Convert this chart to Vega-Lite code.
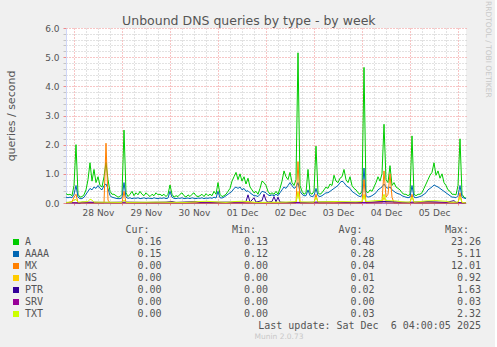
{
"$schema": "https://vega.github.io/schema/vega-lite/v6.json",
"background": "#f0f0f0",
"padding": {"left": 5, "top": 1, "right": 3, "bottom": 10},
"title": {"text": "Unbound DNS queries by type - by week", "font": "DejaVu Sans", "fontSize": 12.5, "fontWeight": "normal", "color": "#555555", "anchor": "middle", "offset": -26},
"spacing": 8,
"config": {"view": {"stroke": null}, "font": "DejaVu Sans"},
"datasets": {
"ts": [
{"t":"2025-11-27T20:00","s":"A","v":0.32},{"t":"2025-11-27T21:00","s":"A","v":0.28},{"t":"2025-11-27T22:00","s":"A","v":0.3},{"t":"2025-11-27T23:00","s":"A","v":0.25},
{"t":"2025-11-28T00:00","s":"A","v":0.6},{"t":"2025-11-28T01:00","s":"A","v":2.0},{"t":"2025-11-28T02:00","s":"A","v":0.3},{"t":"2025-11-28T03:00","s":"A","v":0.2},{"t":"2025-11-28T04:00","s":"A","v":0.22},{"t":"2025-11-28T05:00","s":"A","v":0.28},{"t":"2025-11-28T06:00","s":"A","v":0.45},{"t":"2025-11-28T07:00","s":"A","v":0.8},{"t":"2025-11-28T08:00","s":"A","v":1.38},{"t":"2025-11-28T09:00","s":"A","v":0.75},{"t":"2025-11-28T10:00","s":"A","v":1.15},{"t":"2025-11-28T11:00","s":"A","v":0.7},{"t":"2025-11-28T12:00","s":"A","v":0.9},{"t":"2025-11-28T13:00","s":"A","v":0.6},{"t":"2025-11-28T14:00","s":"A","v":0.55},{"t":"2025-11-28T15:00","s":"A","v":0.9},{"t":"2025-11-28T16:00","s":"A","v":1.4},{"t":"2025-11-28T17:00","s":"A","v":0.8},{"t":"2025-11-28T18:00","s":"A","v":0.4},{"t":"2025-11-28T19:00","s":"A","v":0.3},{"t":"2025-11-28T20:00","s":"A","v":0.3},{"t":"2025-11-28T21:00","s":"A","v":0.25},{"t":"2025-11-28T22:00","s":"A","v":0.2},{"t":"2025-11-28T23:00","s":"A","v":0.22},
{"t":"2025-11-29T00:00","s":"A","v":0.3},{"t":"2025-11-29T01:00","s":"A","v":2.5},{"t":"2025-11-29T02:00","s":"A","v":0.35},{"t":"2025-11-29T03:00","s":"A","v":0.22},{"t":"2025-11-29T04:00","s":"A","v":0.3},{"t":"2025-11-29T05:00","s":"A","v":0.4},{"t":"2025-11-29T06:00","s":"A","v":0.25},{"t":"2025-11-29T07:00","s":"A","v":0.35},{"t":"2025-11-29T08:00","s":"A","v":0.28},{"t":"2025-11-29T09:00","s":"A","v":0.4},{"t":"2025-11-29T10:00","s":"A","v":0.3},{"t":"2025-11-29T11:00","s":"A","v":0.25},{"t":"2025-11-29T12:00","s":"A","v":0.35},{"t":"2025-11-29T13:00","s":"A","v":0.28},{"t":"2025-11-29T14:00","s":"A","v":0.22},{"t":"2025-11-29T15:00","s":"A","v":0.3},{"t":"2025-11-29T16:00","s":"A","v":0.25},{"t":"2025-11-29T17:00","s":"A","v":0.35},{"t":"2025-11-29T18:00","s":"A","v":0.28},{"t":"2025-11-29T19:00","s":"A","v":0.3},{"t":"2025-11-29T20:00","s":"A","v":0.25},{"t":"2025-11-29T21:00","s":"A","v":0.3},{"t":"2025-11-29T22:00","s":"A","v":0.22},{"t":"2025-11-29T23:00","s":"A","v":0.3},
{"t":"2025-11-30T00:00","s":"A","v":0.62},{"t":"2025-11-30T01:00","s":"A","v":0.3},{"t":"2025-11-30T02:00","s":"A","v":0.2},{"t":"2025-11-30T03:00","s":"A","v":0.25},{"t":"2025-11-30T04:00","s":"A","v":0.22},{"t":"2025-11-30T05:00","s":"A","v":0.3},{"t":"2025-11-30T06:00","s":"A","v":0.35},{"t":"2025-11-30T07:00","s":"A","v":0.25},{"t":"2025-11-30T08:00","s":"A","v":0.2},{"t":"2025-11-30T09:00","s":"A","v":0.28},{"t":"2025-11-30T10:00","s":"A","v":0.22},{"t":"2025-11-30T11:00","s":"A","v":0.3},{"t":"2025-11-30T12:00","s":"A","v":0.35},{"t":"2025-11-30T13:00","s":"A","v":0.25},{"t":"2025-11-30T14:00","s":"A","v":0.22},{"t":"2025-11-30T15:00","s":"A","v":0.25},{"t":"2025-11-30T16:00","s":"A","v":0.3},{"t":"2025-11-30T17:00","s":"A","v":0.22},{"t":"2025-11-30T18:00","s":"A","v":0.32},{"t":"2025-11-30T19:00","s":"A","v":0.25},{"t":"2025-11-30T20:00","s":"A","v":0.3},{"t":"2025-11-30T21:00","s":"A","v":0.25},{"t":"2025-11-30T22:00","s":"A","v":0.4},{"t":"2025-11-30T23:00","s":"A","v":0.3},
{"t":"2025-12-01T00:00","s":"A","v":0.7},{"t":"2025-12-01T01:00","s":"A","v":0.3},{"t":"2025-12-01T02:00","s":"A","v":0.22},{"t":"2025-12-01T03:00","s":"A","v":0.25},{"t":"2025-12-01T04:00","s":"A","v":0.3},{"t":"2025-12-01T05:00","s":"A","v":0.4},{"t":"2025-12-01T06:00","s":"A","v":0.5},{"t":"2025-12-01T07:00","s":"A","v":0.75},{"t":"2025-12-01T08:00","s":"A","v":0.9},{"t":"2025-12-01T09:00","s":"A","v":1.05},{"t":"2025-12-01T10:00","s":"A","v":0.8},{"t":"2025-12-01T11:00","s":"A","v":1.0},{"t":"2025-12-01T12:00","s":"A","v":0.75},{"t":"2025-12-01T13:00","s":"A","v":0.9},{"t":"2025-12-01T14:00","s":"A","v":0.65},{"t":"2025-12-01T15:00","s":"A","v":0.85},{"t":"2025-12-01T16:00","s":"A","v":0.55},{"t":"2025-12-01T17:00","s":"A","v":0.45},{"t":"2025-12-01T18:00","s":"A","v":0.35},{"t":"2025-12-01T19:00","s":"A","v":0.4},{"t":"2025-12-01T20:00","s":"A","v":0.3},{"t":"2025-12-01T21:00","s":"A","v":0.5},{"t":"2025-12-01T22:00","s":"A","v":0.75},{"t":"2025-12-01T23:00","s":"A","v":0.7},
{"t":"2025-12-02T00:00","s":"A","v":0.6},{"t":"2025-12-02T01:00","s":"A","v":0.4},{"t":"2025-12-02T02:00","s":"A","v":0.3},{"t":"2025-12-02T03:00","s":"A","v":0.35},{"t":"2025-12-02T04:00","s":"A","v":0.3},{"t":"2025-12-02T05:00","s":"A","v":0.4},{"t":"2025-12-02T06:00","s":"A","v":0.3},{"t":"2025-12-02T07:00","s":"A","v":0.5},{"t":"2025-12-02T08:00","s":"A","v":0.75},{"t":"2025-12-02T09:00","s":"A","v":1.1},{"t":"2025-12-02T10:00","s":"A","v":0.9},{"t":"2025-12-02T11:00","s":"A","v":0.8},{"t":"2025-12-02T12:00","s":"A","v":1.05},{"t":"2025-12-02T13:00","s":"A","v":0.7},{"t":"2025-12-02T14:00","s":"A","v":0.6},{"t":"2025-12-02T15:00","s":"A","v":0.8},{"t":"2025-12-02T16:00","s":"A","v":5.15},{"t":"2025-12-02T17:00","s":"A","v":0.6},{"t":"2025-12-02T18:00","s":"A","v":0.4},{"t":"2025-12-02T19:00","s":"A","v":0.3},{"t":"2025-12-02T20:00","s":"A","v":0.35},{"t":"2025-12-02T21:00","s":"A","v":1.15},{"t":"2025-12-02T22:00","s":"A","v":0.35},{"t":"2025-12-02T23:00","s":"A","v":0.3},
{"t":"2025-12-03T00:00","s":"A","v":0.4},{"t":"2025-12-03T01:00","s":"A","v":1.95},{"t":"2025-12-03T02:00","s":"A","v":0.35},{"t":"2025-12-03T03:00","s":"A","v":0.3},{"t":"2025-12-03T04:00","s":"A","v":0.35},{"t":"2025-12-03T05:00","s":"A","v":0.45},{"t":"2025-12-03T06:00","s":"A","v":0.55},{"t":"2025-12-03T07:00","s":"A","v":0.5},{"t":"2025-12-03T08:00","s":"A","v":0.65},{"t":"2025-12-03T09:00","s":"A","v":0.6},{"t":"2025-12-03T10:00","s":"A","v":0.95},{"t":"2025-12-03T11:00","s":"A","v":0.75},{"t":"2025-12-03T12:00","s":"A","v":0.7},{"t":"2025-12-03T13:00","s":"A","v":0.85},{"t":"2025-12-03T14:00","s":"A","v":0.9},{"t":"2025-12-03T15:00","s":"A","v":1.15},{"t":"2025-12-03T16:00","s":"A","v":0.8},{"t":"2025-12-03T17:00","s":"A","v":0.7},{"t":"2025-12-03T18:00","s":"A","v":0.9},{"t":"2025-12-03T19:00","s":"A","v":0.6},{"t":"2025-12-03T20:00","s":"A","v":0.5},{"t":"2025-12-03T21:00","s":"A","v":0.45},{"t":"2025-12-03T22:00","s":"A","v":0.35},{"t":"2025-12-03T23:00","s":"A","v":0.3},
{"t":"2025-12-04T00:00","s":"A","v":0.4},{"t":"2025-12-04T01:00","s":"A","v":4.65},{"t":"2025-12-04T02:00","s":"A","v":0.4},{"t":"2025-12-04T03:00","s":"A","v":0.35},{"t":"2025-12-04T04:00","s":"A","v":0.45},{"t":"2025-12-04T05:00","s":"A","v":0.4},{"t":"2025-12-04T06:00","s":"A","v":0.55},{"t":"2025-12-04T07:00","s":"A","v":0.7},{"t":"2025-12-04T08:00","s":"A","v":0.9},{"t":"2025-12-04T09:00","s":"A","v":0.75},{"t":"2025-12-04T10:00","s":"A","v":1.0},{"t":"2025-12-04T11:00","s":"A","v":2.7},{"t":"2025-12-04T12:00","s":"A","v":0.8},{"t":"2025-12-04T13:00","s":"A","v":0.7},{"t":"2025-12-04T14:00","s":"A","v":1.28},{"t":"2025-12-04T15:00","s":"A","v":0.6},{"t":"2025-12-04T16:00","s":"A","v":0.7},{"t":"2025-12-04T17:00","s":"A","v":0.55},{"t":"2025-12-04T18:00","s":"A","v":0.5},{"t":"2025-12-04T19:00","s":"A","v":0.45},{"t":"2025-12-04T20:00","s":"A","v":0.35},{"t":"2025-12-04T21:00","s":"A","v":0.3},{"t":"2025-12-04T22:00","s":"A","v":0.3},{"t":"2025-12-04T23:00","s":"A","v":0.25},
{"t":"2025-12-05T00:00","s":"A","v":0.3},{"t":"2025-12-05T01:00","s":"A","v":2.3},{"t":"2025-12-05T02:00","s":"A","v":0.3},{"t":"2025-12-05T03:00","s":"A","v":0.25},{"t":"2025-12-05T04:00","s":"A","v":0.3},{"t":"2025-12-05T05:00","s":"A","v":0.3},{"t":"2025-12-05T06:00","s":"A","v":0.35},{"t":"2025-12-05T07:00","s":"A","v":0.5},{"t":"2025-12-05T08:00","s":"A","v":0.65},{"t":"2025-12-05T09:00","s":"A","v":0.8},{"t":"2025-12-05T10:00","s":"A","v":0.95},{"t":"2025-12-05T11:00","s":"A","v":1.05},{"t":"2025-12-05T12:00","s":"A","v":1.38},{"t":"2025-12-05T13:00","s":"A","v":0.95},{"t":"2025-12-05T14:00","s":"A","v":1.1},{"t":"2025-12-05T15:00","s":"A","v":0.85},{"t":"2025-12-05T16:00","s":"A","v":1.0},{"t":"2025-12-05T17:00","s":"A","v":0.7},{"t":"2025-12-05T18:00","s":"A","v":0.6},{"t":"2025-12-05T19:00","s":"A","v":0.45},{"t":"2025-12-05T20:00","s":"A","v":0.4},{"t":"2025-12-05T21:00","s":"A","v":0.3},{"t":"2025-12-05T22:00","s":"A","v":0.3},{"t":"2025-12-05T23:00","s":"A","v":0.28},
{"t":"2025-12-06T00:00","s":"A","v":0.6},{"t":"2025-12-06T01:00","s":"A","v":2.2},{"t":"2025-12-06T02:00","s":"A","v":0.3},{"t":"2025-12-06T03:00","s":"A","v":0.2},{"t":"2025-12-06T04:00","s":"A","v":0.16},
{"t":"2025-11-27T20:00","s":"AAAA","v":0.2},{"t":"2025-11-27T21:00","s":"AAAA","v":0.18},{"t":"2025-11-27T22:00","s":"AAAA","v":0.2},{"t":"2025-11-27T23:00","s":"AAAA","v":0.18},
{"t":"2025-11-28T00:00","s":"AAAA","v":0.3},{"t":"2025-11-28T01:00","s":"AAAA","v":0.6},{"t":"2025-11-28T02:00","s":"AAAA","v":0.2},{"t":"2025-11-28T03:00","s":"AAAA","v":0.15},{"t":"2025-11-28T04:00","s":"AAAA","v":0.15},{"t":"2025-11-28T05:00","s":"AAAA","v":0.2},{"t":"2025-11-28T06:00","s":"AAAA","v":0.3},{"t":"2025-11-28T07:00","s":"AAAA","v":0.4},{"t":"2025-11-28T08:00","s":"AAAA","v":0.5},{"t":"2025-11-28T09:00","s":"AAAA","v":0.45},{"t":"2025-11-28T10:00","s":"AAAA","v":0.55},{"t":"2025-11-28T11:00","s":"AAAA","v":0.5},{"t":"2025-11-28T12:00","s":"AAAA","v":0.6},{"t":"2025-11-28T13:00","s":"AAAA","v":0.5},{"t":"2025-11-28T14:00","s":"AAAA","v":0.45},{"t":"2025-11-28T15:00","s":"AAAA","v":0.6},{"t":"2025-11-28T16:00","s":"AAAA","v":0.65},{"t":"2025-11-28T17:00","s":"AAAA","v":0.5},{"t":"2025-11-28T18:00","s":"AAAA","v":0.25},{"t":"2025-11-28T19:00","s":"AAAA","v":0.2},{"t":"2025-11-28T20:00","s":"AAAA","v":0.18},{"t":"2025-11-28T21:00","s":"AAAA","v":0.16},{"t":"2025-11-28T22:00","s":"AAAA","v":0.15},{"t":"2025-11-28T23:00","s":"AAAA","v":0.15},
{"t":"2025-11-29T00:00","s":"AAAA","v":0.18},{"t":"2025-11-29T01:00","s":"AAAA","v":0.7},{"t":"2025-11-29T02:00","s":"AAAA","v":0.2},{"t":"2025-11-29T03:00","s":"AAAA","v":0.16},{"t":"2025-11-29T04:00","s":"AAAA","v":0.18},{"t":"2025-11-29T05:00","s":"AAAA","v":0.15},{"t":"2025-11-29T06:00","s":"AAAA","v":0.17},{"t":"2025-11-29T07:00","s":"AAAA","v":0.16},{"t":"2025-11-29T08:00","s":"AAAA","v":0.18},{"t":"2025-11-29T09:00","s":"AAAA","v":0.15},{"t":"2025-11-29T10:00","s":"AAAA","v":0.16},{"t":"2025-11-29T11:00","s":"AAAA","v":0.18},{"t":"2025-11-29T12:00","s":"AAAA","v":0.15},{"t":"2025-11-29T13:00","s":"AAAA","v":0.17},{"t":"2025-11-29T14:00","s":"AAAA","v":0.16},{"t":"2025-11-29T15:00","s":"AAAA","v":0.15},{"t":"2025-11-29T16:00","s":"AAAA","v":0.18},{"t":"2025-11-29T17:00","s":"AAAA","v":0.16},{"t":"2025-11-29T18:00","s":"AAAA","v":0.15},{"t":"2025-11-29T19:00","s":"AAAA","v":0.17},{"t":"2025-11-29T20:00","s":"AAAA","v":0.16},{"t":"2025-11-29T21:00","s":"AAAA","v":0.18},{"t":"2025-11-29T22:00","s":"AAAA","v":0.15},{"t":"2025-11-29T23:00","s":"AAAA","v":0.17},
{"t":"2025-11-30T00:00","s":"AAAA","v":0.4},{"t":"2025-11-30T01:00","s":"AAAA","v":0.2},{"t":"2025-11-30T02:00","s":"AAAA","v":0.16},{"t":"2025-11-30T03:00","s":"AAAA","v":0.15},{"t":"2025-11-30T04:00","s":"AAAA","v":0.17},{"t":"2025-11-30T05:00","s":"AAAA","v":0.16},{"t":"2025-11-30T06:00","s":"AAAA","v":0.18},{"t":"2025-11-30T07:00","s":"AAAA","v":0.15},{"t":"2025-11-30T08:00","s":"AAAA","v":0.16},{"t":"2025-11-30T09:00","s":"AAAA","v":0.17},{"t":"2025-11-30T10:00","s":"AAAA","v":0.15},{"t":"2025-11-30T11:00","s":"AAAA","v":0.18},{"t":"2025-11-30T12:00","s":"AAAA","v":0.16},{"t":"2025-11-30T13:00","s":"AAAA","v":0.15},{"t":"2025-11-30T14:00","s":"AAAA","v":0.17},{"t":"2025-11-30T15:00","s":"AAAA","v":0.16},{"t":"2025-11-30T16:00","s":"AAAA","v":0.18},{"t":"2025-11-30T17:00","s":"AAAA","v":0.15},{"t":"2025-11-30T18:00","s":"AAAA","v":0.17},{"t":"2025-11-30T19:00","s":"AAAA","v":0.16},{"t":"2025-11-30T20:00","s":"AAAA","v":0.18},{"t":"2025-11-30T21:00","s":"AAAA","v":0.16},{"t":"2025-11-30T22:00","s":"AAAA","v":0.2},{"t":"2025-11-30T23:00","s":"AAAA","v":0.17},
{"t":"2025-12-01T00:00","s":"AAAA","v":0.4},{"t":"2025-12-01T01:00","s":"AAAA","v":0.18},{"t":"2025-12-01T02:00","s":"AAAA","v":0.17},{"t":"2025-12-01T03:00","s":"AAAA","v":0.2},{"t":"2025-12-01T04:00","s":"AAAA","v":0.25},{"t":"2025-12-01T05:00","s":"AAAA","v":0.3},{"t":"2025-12-01T06:00","s":"AAAA","v":0.35},{"t":"2025-12-01T07:00","s":"AAAA","v":0.4},{"t":"2025-12-01T08:00","s":"AAAA","v":0.5},{"t":"2025-12-01T09:00","s":"AAAA","v":0.55},{"t":"2025-12-01T10:00","s":"AAAA","v":0.5},{"t":"2025-12-01T11:00","s":"AAAA","v":0.55},{"t":"2025-12-01T12:00","s":"AAAA","v":0.45},{"t":"2025-12-01T13:00","s":"AAAA","v":0.5},{"t":"2025-12-01T14:00","s":"AAAA","v":0.4},{"t":"2025-12-01T15:00","s":"AAAA","v":0.42},{"t":"2025-12-01T16:00","s":"AAAA","v":0.35},{"t":"2025-12-01T17:00","s":"AAAA","v":0.3},{"t":"2025-12-01T18:00","s":"AAAA","v":0.25},{"t":"2025-12-01T19:00","s":"AAAA","v":0.25},{"t":"2025-12-01T20:00","s":"AAAA","v":0.22},{"t":"2025-12-01T21:00","s":"AAAA","v":0.3},{"t":"2025-12-01T22:00","s":"AAAA","v":0.4},{"t":"2025-12-01T23:00","s":"AAAA","v":0.38},
{"t":"2025-12-02T00:00","s":"AAAA","v":0.35},{"t":"2025-12-02T01:00","s":"AAAA","v":0.28},{"t":"2025-12-02T02:00","s":"AAAA","v":0.25},{"t":"2025-12-02T03:00","s":"AAAA","v":0.28},{"t":"2025-12-02T04:00","s":"AAAA","v":0.25},{"t":"2025-12-02T05:00","s":"AAAA","v":0.3},{"t":"2025-12-02T06:00","s":"AAAA","v":0.25},{"t":"2025-12-02T07:00","s":"AAAA","v":0.35},{"t":"2025-12-02T08:00","s":"AAAA","v":0.45},{"t":"2025-12-02T09:00","s":"AAAA","v":0.55},{"t":"2025-12-02T10:00","s":"AAAA","v":0.5},{"t":"2025-12-02T11:00","s":"AAAA","v":0.6},{"t":"2025-12-02T12:00","s":"AAAA","v":0.7},{"t":"2025-12-02T13:00","s":"AAAA","v":0.6},{"t":"2025-12-02T14:00","s":"AAAA","v":0.5},{"t":"2025-12-02T15:00","s":"AAAA","v":0.55},{"t":"2025-12-02T16:00","s":"AAAA","v":0.7},{"t":"2025-12-02T17:00","s":"AAAA","v":0.4},{"t":"2025-12-02T18:00","s":"AAAA","v":0.3},{"t":"2025-12-02T19:00","s":"AAAA","v":0.25},{"t":"2025-12-02T20:00","s":"AAAA","v":0.25},{"t":"2025-12-02T21:00","s":"AAAA","v":0.45},{"t":"2025-12-02T22:00","s":"AAAA","v":0.25},{"t":"2025-12-02T23:00","s":"AAAA","v":0.22},
{"t":"2025-12-03T00:00","s":"AAAA","v":0.25},{"t":"2025-12-03T01:00","s":"AAAA","v":0.5},{"t":"2025-12-03T02:00","s":"AAAA","v":0.25},{"t":"2025-12-03T03:00","s":"AAAA","v":0.22},{"t":"2025-12-03T04:00","s":"AAAA","v":0.25},{"t":"2025-12-03T05:00","s":"AAAA","v":0.3},{"t":"2025-12-03T06:00","s":"AAAA","v":0.35},{"t":"2025-12-03T07:00","s":"AAAA","v":0.35},{"t":"2025-12-03T08:00","s":"AAAA","v":0.4},{"t":"2025-12-03T09:00","s":"AAAA","v":0.45},{"t":"2025-12-03T10:00","s":"AAAA","v":0.5},{"t":"2025-12-03T11:00","s":"AAAA","v":0.55},{"t":"2025-12-03T12:00","s":"AAAA","v":0.6},{"t":"2025-12-03T13:00","s":"AAAA","v":0.7},{"t":"2025-12-03T14:00","s":"AAAA","v":0.75},{"t":"2025-12-03T15:00","s":"AAAA","v":0.7},{"t":"2025-12-03T16:00","s":"AAAA","v":0.6},{"t":"2025-12-03T17:00","s":"AAAA","v":0.55},{"t":"2025-12-03T18:00","s":"AAAA","v":0.5},{"t":"2025-12-03T19:00","s":"AAAA","v":0.4},{"t":"2025-12-03T20:00","s":"AAAA","v":0.35},{"t":"2025-12-03T21:00","s":"AAAA","v":0.3},{"t":"2025-12-03T22:00","s":"AAAA","v":0.25},{"t":"2025-12-03T23:00","s":"AAAA","v":0.22},
{"t":"2025-12-04T00:00","s":"AAAA","v":0.25},{"t":"2025-12-04T01:00","s":"AAAA","v":1.2},{"t":"2025-12-04T02:00","s":"AAAA","v":0.25},{"t":"2025-12-04T03:00","s":"AAAA","v":0.2},{"t":"2025-12-04T04:00","s":"AAAA","v":0.22},{"t":"2025-12-04T05:00","s":"AAAA","v":0.25},{"t":"2025-12-04T06:00","s":"AAAA","v":0.3},{"t":"2025-12-04T07:00","s":"AAAA","v":0.35},{"t":"2025-12-04T08:00","s":"AAAA","v":0.45},{"t":"2025-12-04T09:00","s":"AAAA","v":0.5},{"t":"2025-12-04T10:00","s":"AAAA","v":0.55},{"t":"2025-12-04T11:00","s":"AAAA","v":0.65},{"t":"2025-12-04T12:00","s":"AAAA","v":0.55},{"t":"2025-12-04T13:00","s":"AAAA","v":0.5},{"t":"2025-12-04T14:00","s":"AAAA","v":0.55},{"t":"2025-12-04T15:00","s":"AAAA","v":0.45},{"t":"2025-12-04T16:00","s":"AAAA","v":0.4},{"t":"2025-12-04T17:00","s":"AAAA","v":0.35},{"t":"2025-12-04T18:00","s":"AAAA","v":0.32},{"t":"2025-12-04T19:00","s":"AAAA","v":0.3},{"t":"2025-12-04T20:00","s":"AAAA","v":0.25},{"t":"2025-12-04T21:00","s":"AAAA","v":0.22},{"t":"2025-12-04T22:00","s":"AAAA","v":0.2},{"t":"2025-12-04T23:00","s":"AAAA","v":0.18},
{"t":"2025-12-05T00:00","s":"AAAA","v":0.2},{"t":"2025-12-05T01:00","s":"AAAA","v":0.6},{"t":"2025-12-05T02:00","s":"AAAA","v":0.2},{"t":"2025-12-05T03:00","s":"AAAA","v":0.18},{"t":"2025-12-05T04:00","s":"AAAA","v":0.2},{"t":"2025-12-05T05:00","s":"AAAA","v":0.22},{"t":"2025-12-05T06:00","s":"AAAA","v":0.25},{"t":"2025-12-05T07:00","s":"AAAA","v":0.3},{"t":"2025-12-05T08:00","s":"AAAA","v":0.35},{"t":"2025-12-05T09:00","s":"AAAA","v":0.45},{"t":"2025-12-05T10:00","s":"AAAA","v":0.5},{"t":"2025-12-05T11:00","s":"AAAA","v":0.55},{"t":"2025-12-05T12:00","s":"AAAA","v":0.62},{"t":"2025-12-05T13:00","s":"AAAA","v":0.58},{"t":"2025-12-05T14:00","s":"AAAA","v":0.55},{"t":"2025-12-05T15:00","s":"AAAA","v":0.5},{"t":"2025-12-05T16:00","s":"AAAA","v":0.45},{"t":"2025-12-05T17:00","s":"AAAA","v":0.4},{"t":"2025-12-05T18:00","s":"AAAA","v":0.35},{"t":"2025-12-05T19:00","s":"AAAA","v":0.3},{"t":"2025-12-05T20:00","s":"AAAA","v":0.25},{"t":"2025-12-05T21:00","s":"AAAA","v":0.2},{"t":"2025-12-05T22:00","s":"AAAA","v":0.2},{"t":"2025-12-05T23:00","s":"AAAA","v":0.18},
{"t":"2025-12-06T00:00","s":"AAAA","v":0.25},{"t":"2025-12-06T01:00","s":"AAAA","v":0.6},{"t":"2025-12-06T02:00","s":"AAAA","v":0.2},{"t":"2025-12-06T03:00","s":"AAAA","v":0.17},{"t":"2025-12-06T04:00","s":"AAAA","v":0.15},
{"t":"2025-11-27T20:00","s":"MX","v":0},{"t":"2025-11-27T23:00","s":"MX","v":0.05},{"t":"2025-11-28T00:00","s":"MX","v":0.2},{"t":"2025-11-28T01:00","s":"MX","v":0.3},{"t":"2025-11-28T02:00","s":"MX","v":0},{"t":"2025-11-28T15:00","s":"MX","v":0},{"t":"2025-11-28T16:00","s":"MX","v":2.05},{"t":"2025-11-28T17:00","s":"MX","v":0.1},{"t":"2025-11-28T18:00","s":"MX","v":0},{"t":"2025-11-29T00:00","s":"MX","v":0},{"t":"2025-11-29T01:00","s":"MX","v":0.4},{"t":"2025-11-29T02:00","s":"MX","v":0},{"t":"2025-12-02T15:00","s":"MX","v":0},{"t":"2025-12-02T16:00","s":"MX","v":1.42},{"t":"2025-12-02T17:00","s":"MX","v":0},{"t":"2025-12-03T00:00","s":"MX","v":0},{"t":"2025-12-03T01:00","s":"MX","v":0.3},{"t":"2025-12-03T02:00","s":"MX","v":0},{"t":"2025-12-04T00:00","s":"MX","v":0},{"t":"2025-12-04T01:00","s":"MX","v":0.8},{"t":"2025-12-04T02:00","s":"MX","v":0},{"t":"2025-12-04T10:00","s":"MX","v":0.05},{"t":"2025-12-04T11:00","s":"MX","v":1.1},{"t":"2025-12-04T12:00","s":"MX","v":0.2},{"t":"2025-12-04T13:00","s":"MX","v":0.3},{"t":"2025-12-04T14:00","s":"MX","v":1.0},{"t":"2025-12-04T15:00","s":"MX","v":0.2},{"t":"2025-12-04T16:00","s":"MX","v":0},{"t":"2025-12-05T00:00","s":"MX","v":0},{"t":"2025-12-05T01:00","s":"MX","v":0.3},{"t":"2025-12-05T02:00","s":"MX","v":0},{"t":"2025-12-06T00:00","s":"MX","v":0},{"t":"2025-12-06T01:00","s":"MX","v":0.35},{"t":"2025-12-06T02:00","s":"MX","v":0},{"t":"2025-12-06T04:00","s":"MX","v":0},
{"t":"2025-11-27T20:00","s":"NS","v":0},{"t":"2025-12-02T15:00","s":"NS","v":0},{"t":"2025-12-02T16:00","s":"NS","v":0.4},{"t":"2025-12-02T17:00","s":"NS","v":0},{"t":"2025-12-04T00:00","s":"NS","v":0},{"t":"2025-12-04T01:00","s":"NS","v":0.3},{"t":"2025-12-04T02:00","s":"NS","v":0},{"t":"2025-12-04T10:00","s":"NS","v":0},{"t":"2025-12-04T11:00","s":"NS","v":0.2},{"t":"2025-12-04T12:00","s":"NS","v":0},{"t":"2025-12-06T04:00","s":"NS","v":0},
{"t":"2025-11-27T20:00","s":"PTR","v":0.02},{"t":"2025-11-28T03:00","s":"PTR","v":0},{"t":"2025-11-28T04:00","s":"PTR","v":0.03},{"t":"2025-11-28T16:00","s":"PTR","v":0.02},{"t":"2025-11-29T02:00","s":"PTR","v":0.03},{"t":"2025-11-29T12:00","s":"PTR","v":0.02},{"t":"2025-11-29T22:00","s":"PTR","v":0.03},{"t":"2025-11-30T01:00","s":"PTR","v":0.05},{"t":"2025-11-30T03:00","s":"PTR","v":0.02},{"t":"2025-11-30T13:00","s":"PTR","v":0.05},{"t":"2025-11-30T15:00","s":"PTR","v":0.02},{"t":"2025-12-01T04:00","s":"PTR","v":0.03},{"t":"2025-12-01T12:00","s":"PTR","v":0.03},{"t":"2025-12-01T14:00","s":"PTR","v":0.05},{"t":"2025-12-01T15:00","s":"PTR","v":0.28},{"t":"2025-12-01T16:00","s":"PTR","v":0.03},{"t":"2025-12-01T18:00","s":"PTR","v":0.18},{"t":"2025-12-01T19:00","s":"PTR","v":0.03},{"t":"2025-12-01T22:00","s":"PTR","v":0.08},{"t":"2025-12-01T23:00","s":"PTR","v":0.3},{"t":"2025-12-02T00:00","s":"PTR","v":0.08},{"t":"2025-12-02T01:00","s":"PTR","v":0.03},{"t":"2025-12-02T03:00","s":"PTR","v":0.05},{"t":"2025-12-02T04:00","s":"PTR","v":0.22},{"t":"2025-12-02T05:00","s":"PTR","v":0.04},{"t":"2025-12-02T06:00","s":"PTR","v":0.2},{"t":"2025-12-02T07:00","s":"PTR","v":0.03},{"t":"2025-12-02T10:00","s":"PTR","v":0.02},{"t":"2025-12-02T20:00","s":"PTR","v":0.02},{"t":"2025-12-03T10:00","s":"PTR","v":0.05},{"t":"2025-12-03T16:00","s":"PTR","v":0.02},{"t":"2025-12-04T02:00","s":"PTR","v":0.02},{"t":"2025-12-04T11:00","s":"PTR","v":0.05},{"t":"2025-12-04T14:00","s":"PTR","v":0.05},{"t":"2025-12-04T22:00","s":"PTR","v":0.02},{"t":"2025-12-05T09:00","s":"PTR","v":0.05},{"t":"2025-12-05T18:00","s":"PTR","v":0.02},{"t":"2025-12-05T22:00","s":"PTR","v":0.08},{"t":"2025-12-05T23:00","s":"PTR","v":0.02},{"t":"2025-12-06T04:00","s":"PTR","v":0},
{"t":"2025-11-27T20:00","s":"SRV","v":0},{"t":"2025-12-06T04:00","s":"SRV","v":0},
{"t":"2025-11-27T20:00","s":"TXT","v":0.02},{"t":"2025-11-27T23:00","s":"TXT","v":0.03},{"t":"2025-11-28T00:00","s":"TXT","v":0.1},{"t":"2025-11-28T01:00","s":"TXT","v":0.12},{"t":"2025-11-28T02:00","s":"TXT","v":0.03},{"t":"2025-11-28T07:00","s":"TXT","v":0.05},{"t":"2025-11-28T08:00","s":"TXT","v":0.13},{"t":"2025-11-28T09:00","s":"TXT","v":0.1},{"t":"2025-11-28T10:00","s":"TXT","v":0.03},{"t":"2025-11-29T00:00","s":"TXT","v":0.02},{"t":"2025-11-29T01:00","s":"TXT","v":0.1},{"t":"2025-11-29T02:00","s":"TXT","v":0.02},{"t":"2025-11-29T17:00","s":"TXT","v":0.03},{"t":"2025-11-30T08:00","s":"TXT","v":0.02},{"t":"2025-11-30T15:00","s":"TXT","v":0.05},{"t":"2025-11-30T18:00","s":"TXT","v":0.06},{"t":"2025-11-30T23:00","s":"TXT","v":0.04},{"t":"2025-12-01T04:00","s":"TXT","v":0.02},{"t":"2025-12-01T08:00","s":"TXT","v":0.05},{"t":"2025-12-01T12:00","s":"TXT","v":0.06},{"t":"2025-12-01T15:00","s":"TXT","v":0.05},{"t":"2025-12-01T19:00","s":"TXT","v":0.02},{"t":"2025-12-02T10:00","s":"TXT","v":0.03},{"t":"2025-12-02T15:00","s":"TXT","v":0.05},{"t":"2025-12-02T16:00","s":"TXT","v":0.35},{"t":"2025-12-02T17:00","s":"TXT","v":0.04},{"t":"2025-12-03T00:00","s":"TXT","v":0.03},{"t":"2025-12-03T01:00","s":"TXT","v":0.2},{"t":"2025-12-03T02:00","s":"TXT","v":0.04},{"t":"2025-12-03T11:00","s":"TXT","v":0.05},{"t":"2025-12-03T21:00","s":"TXT","v":0.04},{"t":"2025-12-04T00:00","s":"TXT","v":0.05},{"t":"2025-12-04T01:00","s":"TXT","v":0.25},{"t":"2025-12-04T02:00","s":"TXT","v":0.05},{"t":"2025-12-04T07:00","s":"TXT","v":0.08},{"t":"2025-12-04T10:00","s":"TXT","v":0.09},{"t":"2025-12-04T11:00","s":"TXT","v":0.3},{"t":"2025-12-04T12:00","s":"TXT","v":0.08},{"t":"2025-12-04T17:00","s":"TXT","v":0.07},{"t":"2025-12-04T20:00","s":"TXT","v":0.04},{"t":"2025-12-05T00:00","s":"TXT","v":0.03},{"t":"2025-12-05T01:00","s":"TXT","v":0.2},{"t":"2025-12-05T02:00","s":"TXT","v":0.03},{"t":"2025-12-05T08:00","s":"TXT","v":0.07},{"t":"2025-12-05T13:00","s":"TXT","v":0.08},{"t":"2025-12-05T18:00","s":"TXT","v":0.06},{"t":"2025-12-05T20:00","s":"TXT","v":0.03},{"t":"2025-12-06T00:00","s":"TXT","v":0.03},{"t":"2025-12-06T01:00","s":"TXT","v":0.2},{"t":"2025-12-06T02:00","s":"TXT","v":0.02},{"t":"2025-12-06T04:00","s":"TXT","v":0}
],
"leg": [
{"row":"hdr","col":"Cur","txt":"Cur:"},{"row":"hdr","col":"Min","txt":"Min:"},{"row":"hdr","col":"Avg","txt":"Avg:"},{"row":"hdr","col":"Max","txt":"Max:"},
{"row":"A","s":"A","col":"name","txt":"A"},{"row":"A","col":"Cur","txt":"0.16"},{"row":"A","col":"Min","txt":"0.13"},{"row":"A","col":"Avg","txt":"0.48"},{"row":"A","col":"Max","txt":"23.26"},
{"row":"AAAA","s":"AAAA","col":"name","txt":"AAAA"},{"row":"AAAA","col":"Cur","txt":"0.15"},{"row":"AAAA","col":"Min","txt":"0.12"},{"row":"AAAA","col":"Avg","txt":"0.28"},{"row":"AAAA","col":"Max","txt":"5.11"},
{"row":"MX","s":"MX","col":"name","txt":"MX"},{"row":"MX","col":"Cur","txt":"0.00"},{"row":"MX","col":"Min","txt":"0.00"},{"row":"MX","col":"Avg","txt":"0.04"},{"row":"MX","col":"Max","txt":"12.01"},
{"row":"NS","s":"NS","col":"name","txt":"NS"},{"row":"NS","col":"Cur","txt":"0.00"},{"row":"NS","col":"Min","txt":"0.00"},{"row":"NS","col":"Avg","txt":"0.01"},{"row":"NS","col":"Max","txt":"0.92"},
{"row":"PTR","s":"PTR","col":"name","txt":"PTR"},{"row":"PTR","col":"Cur","txt":"0.00"},{"row":"PTR","col":"Min","txt":"0.00"},{"row":"PTR","col":"Avg","txt":"0.02"},{"row":"PTR","col":"Max","txt":"1.63"},
{"row":"SRV","s":"SRV","col":"name","txt":"SRV"},{"row":"SRV","col":"Cur","txt":"0.00"},{"row":"SRV","col":"Min","txt":"0.00"},{"row":"SRV","col":"Avg","txt":"0.00"},{"row":"SRV","col":"Max","txt":"0.03"},
{"row":"TXT","s":"TXT","col":"name","txt":"TXT"},{"row":"TXT","col":"Cur","txt":"0.00"},{"row":"TXT","col":"Min","txt":"0.00"},{"row":"TXT","col":"Avg","txt":"0.03"},{"row":"TXT","col":"Max","txt":"2.32"},
{"row":"upd","col":"Max","txt":"Last update: Sat Dec \u00a06 04:00:05 2025"}
]
},
"vconcat": [
{
"width": 400, "height": 175,
"view": {"fill": "#ffffff", "stroke": null},
"title": {"text": "RRDTOOL / TOBI OETIKER", "orient": "right", "anchor": "start", "font": "DejaVu Sans", "fontSize": 7.5, "fontWeight": "normal", "color": "#c8c8c8", "offset": 16, "dx": -23},
"data": {"name": "ts"},
"mark": {"type": "line", "strokeWidth": 1},
"encoding": {
"x": {"field": "t", "type": "temporal",
"scale": {"domain": [{"year": 2025, "month": 11, "date": 27, "hours": 20}, {"year": 2025, "month": 12, "date": 6, "hours": 4}]},
"axis": {"title": null, "tickCount": 33,
"labelExpr": "hours(datum.value) == 12 ? timeFormat(datum.value, '%d %b') : ''",
"labelOverlap": false, "labelFlush": false, "labelFont": "DejaVu Sans", "labelFontSize": 9, "labelColor": "#555555", "labelPadding": 3,
"tickSize": 2, "tickColor": {"condition": {"test": "hours(datum.value) == 0", "value": "#ee8a8a"}, "value": "#c4c4c4"},
"grid": true, "gridColor": {"condition": {"test": "hours(datum.value) == 0", "value": "#ee8a8a"}, "value": "#c4c4c4"}, "gridDash": [1, 2],
"domainColor": "#cfd6f8"}},
"y": {"field": "v", "type": "quantitative",
"scale": {"domain": [0, 6], "nice": false},
"axis": {"title": "queries / second", "titleFont": "DejaVu Sans", "titleFontSize": 11, "titleFontWeight": "normal", "titleColor": "#555555", "titlePadding": 28,
"values": [0,0.2,0.4,0.6,0.8,1,1.2,1.4,1.6,1.8,2,2.2,2.4,2.6,2.8,3,3.2,3.4,3.6,3.8,4,4.2,4.4,4.6,4.8,5,5.2,5.4,5.6,5.8,6],
"labelExpr": "datum.value == round(datum.value) ? format(datum.value, '.1f') : ''",
"labelOverlap": false, "labelFlush": false, "labelFont": "DejaVu Sans", "labelFontSize": 9, "labelColor": "#555555", "labelPadding": 4,
"tickSize": 3, "tickColor": {"condition": {"test": "datum.value == round(datum.value)", "value": "#ee8a8a"}, "value": "#c4c4c4"},
"grid": true, "gridColor": {"condition": {"test": "datum.value == round(datum.value)", "value": "#ee8a8a"}, "value": "#c4c4c4"}, "gridDash": [1, 2],
"domainColor": "#cfd6f8"}},
"color": {"field": "s", "type": "nominal",
"scale": {"domain": ["A","AAAA","MX","NS","PTR","SRV","TXT"], "range": ["#00cc00","#0066b3","#ff8000","#ffcc00","#330099","#990099","#ccff00"]},
"legend": null}
}
},
{
"width": 426, "height": 96,
"view": {"stroke": null},
"title": {"text": "Munin 2.0.73", "orient": "bottom", "anchor": "middle", "font": "DejaVu Sans", "fontSize": 7.5, "fontWeight": "normal", "color": "#c8c8c8", "offset": 2},
"data": {"name": "leg"},
"encoding": {
"x": {"field": "col", "type": "ordinal", "scale": {"type": "point", "domain": ["name","Cur","Min","Avg","Max"], "padding": 0}, "axis": null},
"y": {"field": "row", "type": "ordinal", "scale": {"type": "point", "domain": ["hdr","A","AAAA","MX","NS","PTR","SRV","TXT","upd"], "padding": 0}, "axis": null}
},
"layer": [
{"transform": [{"filter": "datum.col == 'name'"}],
"mark": {"type": "square", "size": 36, "filled": true, "opacity": 1, "xOffset": -50},
"encoding": {"color": {"field": "s", "type": "nominal", "scale": {"domain": ["A","AAAA","MX","NS","PTR","SRV","TXT"], "range": ["#00cc00","#0066b3","#ff8000","#ffcc00","#330099","#990099","#ccff00"]}, "legend": null}}},
{"transform": [{"filter": "datum.col == 'name'"}],
"mark": {"type": "text", "align": "left", "baseline": "middle", "dx": -41, "font": "DejaVu Sans Mono", "fontSize": 10, "color": "#555555"},
"encoding": {"text": {"field": "txt"}}},
{"transform": [{"filter": "datum.row == 'hdr'"}],
"mark": {"type": "text", "align": "right", "baseline": "middle", "dx": -23, "font": "DejaVu Sans Mono", "fontSize": 10, "color": "#555555"},
"encoding": {"text": {"field": "txt"}}},
{"transform": [{"filter": "datum.col != 'name' && datum.row != 'hdr'"}],
"mark": {"type": "text", "align": "right", "baseline": "middle", "dx": -11, "font": "DejaVu Sans Mono", "fontSize": 10, "color": "#555555"},
"encoding": {"text": {"field": "txt"}}}
]
}
]
}
